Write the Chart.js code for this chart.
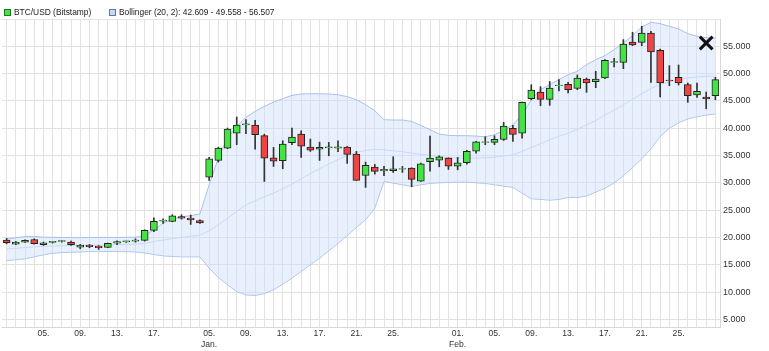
<!DOCTYPE html>
<html>
<head>
<meta charset="utf-8">
<script src="https://cdn.jsdelivr.net/npm/chart.js@4.4.1/dist/chart.umd.min.js"></script>
<style>
    body { margin: 0; background: #fff; }
    #wrap { position: relative; width: 769px; height: 351px; }
    .legend-item {
        position: absolute; top: 7px; height: 10px; line-height: 10px;
        font: 8.4px "Liberation Sans", Arial, sans-serif; color: #222;
        white-space: nowrap; display: flex; align-items: center;
    }
    .legend-item i {
        display: inline-block; width: 5px; height: 5px; margin-right: 3px;
    }
</style>
</head>
<body>
<div id="wrap">
    <div class="legend-item" style="left:4px"><i style="background:#44e344;border:1px solid #1c7a1c"></i>BTC/USD (Bitstamp)</div>
    <div class="legend-item" style="left:109px"><i style="background:#c9d9f5;border:1px solid #5b78b5"></i>Bollinger (20, 2): 42.609 - 49.558 - 56.507</div>
    <canvas id="mainChart" width="769" height="351"></canvas>
</div>
<script>
// ---------------- Data ----------------
const days = [
    '2020-12-01','2020-12-02','2020-12-03','2020-12-04','2020-12-05','2020-12-06','2020-12-07','2020-12-08',
    '2020-12-09','2020-12-10','2020-12-11','2020-12-12','2020-12-13','2020-12-14','2020-12-15','2020-12-16',
    '2020-12-17','2020-12-18','2020-12-19','2020-12-20','2020-12-21','2020-12-22',
    '2021-01-05','2021-01-06','2021-01-07','2021-01-08','2021-01-09','2021-01-10','2021-01-11','2021-01-12',
    '2021-01-13','2021-01-14','2021-01-15','2021-01-16','2021-01-17','2021-01-18','2021-01-19','2021-01-20',
    '2021-01-21','2021-01-22','2021-01-23','2021-01-24','2021-01-25','2021-01-26','2021-01-27','2021-01-28',
    '2021-01-29','2021-01-30','2021-01-31',
    '2021-02-01','2021-02-02','2021-02-03','2021-02-04','2021-02-05','2021-02-06','2021-02-07','2021-02-08',
    '2021-02-09','2021-02-10','2021-02-11','2021-02-12','2021-02-13','2021-02-14','2021-02-15','2021-02-16',
    '2021-02-17','2021-02-18','2021-02-19','2021-02-20','2021-02-21','2021-02-22','2021-02-23','2021-02-24',
    '2021-02-25','2021-02-26','2021-02-27','2021-02-28','2021-03-01'
];

const opens = [
    19510, 18780, 19140, 19630, 18660, 19100, 19250, 19140, 18230, 18600, 18410, 18170, 18960, 19200, 19330, 19450,
    21280, 22990, 22930, 23840, 23540, 23110,
    31050, 34100, 36360, 39110, 40600, 40580, 38630, 34590, 34040, 37340, 38930, 36550, 36180, 36400, 36360, 36550,
    35270, 31350, 32880, 32200, 32210, 32500, 32700, 30320, 33860, 34170, 34530,
    33070, 33680, 35820, 37400, 37400, 37950, 39970, 39110, 45410, 46630, 45290, 47790, 48030, 47300, 49010, 48520,
    49200, 52050, 52070, 55790, 55730, 57440, 54270, 48800, 49320, 47970, 46080, 45710, 45960
];
const highs = [
    19815, 19270, 19570, 19750, 19140, 19270, 19390, 19330, 18720, 18720, 18530, 18960, 19390, 19330, 19750, 21400,
    23600, 23420, 24150, 24150, 24090, 23230,
    34650, 36530, 40030, 42050, 41560, 41440, 38900, 36490, 37710, 40030, 39540, 38010, 37460, 37400, 37710, 36670,
    35750, 33800, 33370, 33000, 34780, 33000, 32760, 33620, 38560, 34960, 34590,
    34650, 35940, 37590, 38440, 38620, 41070, 40520, 44800, 47970, 47610, 48550, 48910, 48400, 49750, 49200, 50420,
    52560, 52800, 56220, 57570, 58670, 57750, 54510, 51460, 51580, 48280, 48280, 46630, 49320
];
const lows = [
    18840, 18660, 19080, 18780, 18540, 18960, 19150, 18540, 17920, 18110, 17800, 18110, 18660, 19080, 19140, 19330,
    21040, 22560, 22870, 23350, 22380, 22560,
    30440, 33800, 36240, 36980, 38990, 36180, 30250, 33000, 32580, 36980, 34650, 35750, 34100, 34960, 35690, 33550,
    30440, 29160, 31600, 31290, 31900, 31900, 29280, 30260, 32150, 32940, 32450,
    32390, 33430, 35450, 36980, 36980, 37770, 37590, 38200, 45200, 44120, 44190, 46840, 46450, 47060, 46570, 47420,
    49070, 51210, 50910, 55120, 55120, 48400, 45710, 47790, 47910, 44740, 45650, 43570, 45220
];
const closes = [
    19020, 19140, 19450, 18840, 19020, 19300, 19420, 18660, 18600, 18290, 18110, 18900, 19220, 19380, 19510, 21280,
    22930, 23170, 23960, 23540, 23230, 22680,
    34410, 36360, 39850, 40580, 40800, 38810, 34530, 33980, 37100, 38380, 36730, 36000, 36480, 36580, 36600, 35200,
    30440, 33190, 32090, 32450, 32580, 32630, 30620, 33490, 34530, 34780, 33070,
    33680, 35750, 37530, 37520, 37950, 40400, 38870, 44740, 47000, 45290, 47360, 47920, 47060, 49200, 48280, 49010,
    52430, 52180, 55430, 55240, 57440, 53960, 48280, 48690, 48280, 45960, 46750, 45350, 48890
];

const upperBand = [
    19700, 19940, 20180, 20180, 20060, 20020, 19990, 19980, 19970, 19990, 20000, 20010, 20000, 20020, 20050, 20300,
    21400, 22600, 23300, 23800, 24000, 24300,
    29640, 34530, 38200, 40340, 41990, 43090, 44000, 44800, 45410, 46020, 46260, 46320, 46320, 46260, 46140, 45770,
    45220, 44310, 43210, 41560, 41500, 41500, 41250, 40520, 39730, 38930, 38690,
    38630, 38630, 38560, 38440, 38810, 39540, 40640, 42480, 45220, 47060, 47970, 48900, 49800, 50420, 51640, 52560,
    53290, 54390, 55610, 56960, 58540, 59400, 59150, 58670, 58180, 57320, 56830, 56590, 56507
];
const middleBand = [
    17900, 18000, 18150, 18280, 18380, 18430, 18480, 18520, 18550, 18560, 18580, 18620, 18680, 18740, 18800, 18900,
    19260, 19520, 19760, 20000, 20240, 20420,
    21210, 22310, 23530, 24760, 25980, 26710, 27440, 28120, 28910, 29770, 30740, 31720, 32580, 33430, 34230, 35020,
    35570, 35940, 36120, 36060, 35880, 35690, 35450, 35200, 35020, 34780, 34650,
    34530, 34530, 34530, 34590, 34720, 34900, 35140, 35750, 36490, 37160, 37890, 38500, 39110, 39800, 40600, 41400,
    42400, 43300, 44300, 45300, 46300, 47300, 48000, 48500, 48900, 49200, 49400, 49500, 49558
];
const lowerBand = [
    15790, 15910, 16090, 16450, 16810, 17110, 17230, 17290, 17350, 17410, 17410, 17420, 17410, 17400, 17350, 17170,
    16870, 16630, 16510, 16450, 16450, 16450,
    14370, 12660, 11310, 10090, 9480, 9360, 9730, 10400, 11440, 12540, 13760, 14980, 16200, 17550, 18890, 20360,
    21820, 23230, 25370, 30250, 29950, 29640, 29340, 29640, 29890, 30010, 30070,
    30130, 30130, 30010, 29890, 29640, 29400, 29160, 28120, 27080, 26960, 26830, 26960, 27320, 27300, 27600, 28300,
    29000, 30000, 31300, 32800, 34400, 36200, 38500, 40000, 41000, 41700, 42100, 42400, 42609
];

// the drawn cross near the top right
const markerDay = '2021-02-28';
const markerValue = 55600;

const tickLabels = {
    '2020-12-05': '05.', '2020-12-09': '09.', '2020-12-13': '13.', '2020-12-17': '17.',
    '2021-01-05': ['05.', 'Jan.'], '2021-01-09': '09.', '2021-01-13': '13.', '2021-01-17': '17.',
    '2021-01-21': '21.', '2021-01-25': '25.',
    '2021-02-01': ['01.', 'Feb.'], '2021-02-05': '05.', '2021-02-09': '09.', '2021-02-13': '13.',
    '2021-02-17': '17.', '2021-02-21': '21.', '2021-02-25': '25.'
};
const yTicks = [5000, 10000, 15000, 20000, 25000, 30000, 35000, 40000, 45000, 50000, 55000, 60000];


// ---------------- Helpers ----------------
const UP = '#44e344';
const DOWN = '#ee4444';
const GRID = '#e2e2e2';

function fmt(v) {
    return String(v).replace(/\B(?=(\d{3})+(?!\d))/g, '.');
}


// ---------------- Chart Init ----------------
function initChart() {
    const ctx = document.getElementById('mainChart').getContext('2d');
    const family = '"Liberation Sans", Arial, sans-serif';

    new Chart(ctx, {
        data: {
            labels: days,
            datasets: [
                {
                    type: 'bar',
                    data: days.map((d, i) => [opens[i], closes[i]]),
                    backgroundColor: days.map((d, i) => closes[i] >= opens[i] ? UP : DOWN),
                    borderColor: '#222',
                    borderWidth: 1,
                    borderSkipped: false,
                    barThickness: 7,
                    grouped: false,
                    order: 1
                },
                {
                    type: 'bar',
                    data: days.map((d, i) => [lows[i], highs[i]]),
                    backgroundColor: '#333',
                    borderWidth: 0,
                    barThickness: 1,
                    grouped: false,
                    order: 2
                },
                {
                    type: 'line',
                    data: upperBand,
                    borderColor: '#a9c1ec',
                    borderWidth: 1,
                    backgroundColor: 'rgba(205,222,250,0.45)',
                    fill: 4,
                    pointRadius: 0,
                    order: 3
                },
                {
                    type: 'line',
                    data: middleBand,
                    borderColor: '#c2d6f6',
                    borderWidth: 1,
                    fill: false,
                    pointRadius: 0,
                    order: 3
                },
                {
                    type: 'line',
                    data: lowerBand,
                    borderColor: '#a9c1ec',
                    borderWidth: 1,
                    fill: false,
                    pointRadius: 0,
                    order: 3
                },
                {
                    type: 'line',
                    data: days.map(d => d === markerDay ? markerValue : null),
                    showLine: false,
                    pointStyle: 'crossRot',
                    pointRadius: 9,
                    pointBorderWidth: 3,
                    pointBorderColor: '#111',
                    order: 0
                }
            ]
        },
        options: {
            responsive: false,
            animation: false,
            devicePixelRatio: 1,
            layout: { autoPadding: false, padding: { top: 19, left: 2, right: 0, bottom: 0 } },
            plugins: {
                legend: { display: false },
                tooltip: { enabled: false }
            },
            scales: {
                x: {
                    type: 'category',
                    offset: true,
                    grid: { color: GRID, offset: false, drawTicks: false },
                    border: { color: '#d8d8d8' },
                    ticks: {
                        autoSkip: false,
                        maxRotation: 0,
                        padding: 1,
                        color: '#333',
                        font: { family: family, size: 8.6, lineHeight: 1.3 },
                        callback: (v, i) => tickLabels[days[i]] || ''
                    },
                    afterFit: s => {
                        s.height = 24;
                        s.paddingLeft = 0;
                        s.paddingRight = 0;
                    }
                },
                y: {
                    position: 'right',
                    min: 3600,
                    max: 60000,
                    afterBuildTicks: axis => { axis.ticks = yTicks.map(v => ({ value: v })); },
                    grid: { color: GRID, drawTicks: false },
                    border: { color: '#d8d8d8' },
                    ticks: {
                        padding: 3,
                        color: '#333',
                        font: { family: family, size: 9 },
                        callback: v => v === 60000 ? '' : fmt(v)
                    },
                    afterFit: s => { s.width = 49; }
                }
            }
        }
    });
}


// ---------------- Initialize ----------------
initChart();
</script>
</body>
</html>
